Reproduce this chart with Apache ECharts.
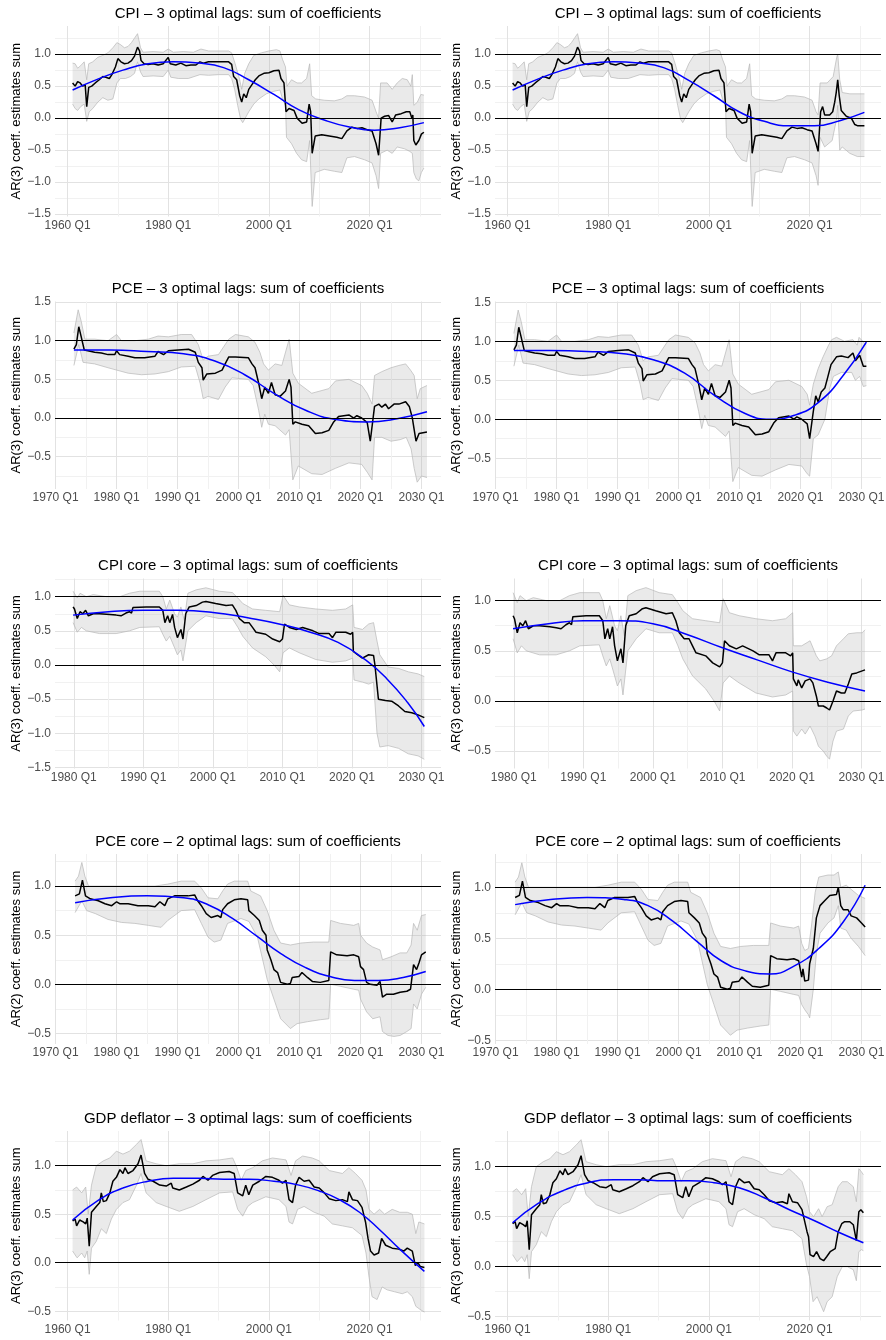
<!DOCTYPE html>
<html lang="en">
<head>
<meta charset="UTF-8">
<title>AR coefficient sums</title>
<style>
  html, body { margin: 0; padding: 0; background: #fff; }
  #chart { width: 886px; height: 1340px; }
</style>
</head>
<body>
<div id="chart"></div>
<script src="https://cdn.jsdelivr.net/npm/echarts@6/dist/echarts.min.js"></script>
<script>
// ---------- data (x = quarter position on the axis, y = value) ----------
// CPI: shared history, then tails for left (A) and right (B) panels
var cpiEst = [[1961.0,0.55],[1961.5,0.50],[1962.0,0.57],[1962.5,0.55],[1963.0,0.50],[1963.5,0.52],[1963.8,0.18],[1964.2,0.48],[1964.8,0.50],[1965.5,0.55],[1966.3,0.60],[1967.0,0.65],[1967.6,0.64],[1968.3,0.62],[1968.8,0.68],[1969.5,0.80],[1970.0,0.93],[1970.6,0.88],[1971.3,0.85],[1972.0,0.86],[1972.7,0.90],[1973.3,0.97],[1973.9,1.11],[1974.3,1.05],[1974.6,0.90],[1975.2,0.85],[1976.0,0.84],[1977.0,0.85],[1978.0,0.83],[1979.0,0.85],[1980.0,0.95],[1980.4,0.85],[1981.5,0.83],[1982.5,0.86],[1983.5,0.82],[1984.5,0.83],[1985.5,0.83],[1986.3,0.88],[1987.0,0.86],[1988.0,0.88],[1989.5,0.88],[1991.0,0.88],[1992.0,0.88],[1992.6,0.84],[1993.0,0.65],[1993.6,0.60],[1994.2,0.35],[1994.6,0.25],[1995.0,0.38],[1995.5,0.32],[1996.0,0.45],[1996.6,0.52],[1997.3,0.60],[1998.0,0.66],[1999.0,0.70],[2000.0,0.71],[2001.0,0.74],[2002.0,0.75],[2002.4,0.62],[2003.0,0.55],[2003.4,0.10],[2004.0,0.15],[2005.0,0.12],[2005.6,0.00],[2006.6,-0.08],[2007.5,-0.06],[2008.0,0.22],[2008.3,0.10],[2008.6,-0.55],[2009.2,-0.28],[2010.5,-0.26],[2012.0,-0.28],[2013.5,-0.30],[2014.5,-0.32],[2015.5,-0.20],[2016.5,-0.14],[2017.5,-0.16],[2018.5,-0.15],[2019.5,-0.18],[2020.5,-0.20],[2021.3,-0.40]];
var cpiEstA = [[2021.8,-0.58],[2022.3,0.00],[2023.0,0.03],[2023.8,0.04],[2024.5,-0.06],[2025.2,0.05],[2026.3,0.07],[2027.3,0.10],[2028.0,0.10],[2028.4,0.00],[2028.6,0.05],[2028.8,-0.35],[2029.2,-0.42],[2029.8,-0.35],[2030.3,-0.25],[2030.8,-0.22]];
var cpiEstB = [[2021.7,-0.52],[2022.2,0.10],[2022.6,0.18],[2023.0,0.05],[2024.0,0.05],[2024.6,0.10],[2025.0,0.25],[2025.3,0.40],[2025.6,0.60],[2025.9,0.35],[2026.3,0.12],[2027.3,0.03],[2028.3,0.00],[2029.0,-0.10],[2029.6,-0.12],[2030.9,-0.12]];
var cpiHi = [[1961.0,0.86],[1961.5,0.85],[1962.0,0.78],[1962.6,0.82],[1963.3,0.88],[1963.8,0.60],[1964.2,0.85],[1965.0,0.88],[1966.0,0.95],[1967.0,0.98],[1968.0,1.02],[1969.0,1.10],[1969.8,1.18],[1970.5,1.15],[1971.3,1.10],[1972.0,1.12],[1972.7,1.18],[1973.3,1.25],[1973.9,1.32],[1974.5,1.10],[1975.0,1.03],[1977.0,1.04],[1979.0,1.03],[1980.0,1.08],[1981.0,1.03],[1983.0,1.04],[1985.0,1.03],[1986.5,1.08],[1988.0,1.05],[1990.0,1.05],[1992.0,1.05],[1992.6,1.02],[1993.3,0.85],[1994.2,0.60],[1994.6,0.45],[1995.2,0.70],[1996.0,0.85],[1997.0,0.98],[1998.5,1.02],[2000.0,1.05],[2001.5,1.07],[2002.2,1.05],[2002.7,0.92],[2003.3,0.80],[2003.6,0.50],[2004.5,0.60],[2005.6,0.55],[2006.5,0.55],[2007.5,0.62],[2008.1,0.85],[2008.5,0.35],[2009.3,0.30],[2011.0,0.28],[2013.0,0.27],[2014.5,0.30],[2015.5,0.35],[2017.0,0.35],[2019.0,0.33],[2020.5,0.28],[2021.3,0.10]];
var cpiHiA = [[2021.8,0.00],[2022.2,0.55],[2023.5,0.55],[2024.5,0.45],[2025.5,0.55],[2026.5,0.62],[2027.5,0.60],[2028.2,0.50],[2028.5,0.68],[2028.8,0.20],[2029.5,0.25],[2030.2,0.37],[2030.8,0.36]];
var cpiHiB = [[2021.7,0.05],[2022.1,0.55],[2023.5,0.55],[2024.7,0.65],[2025.4,0.95],[2025.6,1.00],[2026.0,0.60],[2026.5,0.40],[2028.0,0.38],[2030.9,0.38]];
var cpiLo = [[1961.0,0.22],[1961.5,0.15],[1962.0,0.12],[1962.6,0.18],[1963.3,0.22],[1963.8,-0.05],[1964.3,0.10],[1965.0,0.15],[1966.0,0.25],[1967.0,0.32],[1968.0,0.28],[1969.0,0.30],[1969.8,0.55],[1970.5,0.62],[1971.5,0.62],[1972.5,0.65],[1973.3,0.70],[1973.9,0.88],[1974.5,0.72],[1975.0,0.65],[1977.0,0.66],[1979.0,0.65],[1980.0,0.75],[1980.5,0.64],[1982.0,0.62],[1984.0,0.62],[1986.3,0.68],[1988.0,0.67],[1990.0,0.68],[1992.0,0.68],[1992.6,0.62],[1993.2,0.45],[1993.8,0.20],[1994.4,-0.02],[1994.8,-0.07],[1995.3,0.00],[1996.0,0.10],[1997.0,0.22],[1998.0,0.30],[1999.5,0.38],[2001.0,0.42],[2002.2,0.44],[2002.7,0.30],[2003.3,0.20],[2003.5,-0.30],[2004.5,-0.40],[2005.5,-0.55],[2006.5,-0.65],[2007.5,-0.68],[2008.1,-0.35],[2008.6,-1.38],[2009.2,-0.85],[2011.0,-0.80],[2013.0,-0.83],[2014.5,-0.85],[2015.5,-0.62],[2017.0,-0.60],[2019.0,-0.65],[2020.5,-0.70],[2021.3,-0.90]];
var cpiLoA = [[2021.8,-1.10],[2022.2,-0.55],[2023.5,-0.50],[2024.5,-0.55],[2025.5,-0.45],[2027.0,-0.48],[2028.0,-0.52],[2028.5,-0.55],[2028.8,-0.85],[2029.3,-0.95],[2029.8,-0.98],[2030.3,-0.85],[2030.8,-0.78]];
var cpiLoB = [[2021.7,-1.05],[2022.1,-0.30],[2023.0,-0.45],[2024.5,-0.35],[2025.4,0.00],[2025.6,0.20],[2026.0,-0.50],[2026.5,-0.45],[2028.0,-0.55],[2029.5,-0.60],[2030.9,-0.60]];
var cpiTrendA = [[1961,0.44],[1966,0.61],[1971,0.75],[1976,0.85],[1981,0.88],[1986,0.86],[1991,0.79],[1996,0.60],[2001,0.37],[2006,0.13],[2011,-0.03],[2016,-0.14],[2021,-0.19],[2026,-0.15],[2030.8,-0.07]];
var cpiTrendB = [[1961,0.44],[1966,0.61],[1971,0.75],[1976,0.85],[1981,0.88],[1986,0.86],[1991,0.79],[1996,0.59],[2001,0.35],[2006,0.10],[2011,-0.05],[2016,-0.12],[2021,-0.12],[2026,-0.04],[2030.9,0.09]];

// PCE
var pceEst = [[1973.0,0.89],[1973.4,0.95],[1973.8,1.18],[1974.2,1.05],[1974.7,0.88],[1975.3,0.87],[1976.4,0.85],[1977.5,0.84],[1978.6,0.82],[1979.7,0.82],[1980.0,0.87],[1980.5,0.82],[1981.9,0.80],[1983.0,0.78],[1984.6,0.78],[1986.3,0.80],[1986.8,0.86],[1987.7,0.82],[1988.5,0.87],[1990.1,0.88],[1991.8,0.89],[1992.9,0.85],[1993.4,0.72],[1994.0,0.65],[1994.2,0.49],[1994.8,0.57],[1996.2,0.58],[1997.3,0.62],[1997.8,0.70],[1998.4,0.79],[1999.5,0.79],[2001.6,0.78],[2002.2,0.70],[2002.7,0.65],[2003.3,0.45],[2003.8,0.25],[2004.3,0.40],[2004.9,0.32],[2005.4,0.46],[2006.0,0.30],[2006.8,0.28],[2007.7,0.35],[2008.3,0.50],[2008.6,0.40],[2008.9,-0.08],[2009.3,-0.05],[2010.4,-0.08],[2011.5,-0.10],[2012.6,-0.20],[2013.7,-0.19],[2014.8,-0.16],[2015.6,-0.05],[2016.4,0.02],[2018.1,0.04],[2018.9,0.00],[2019.4,0.03],[2020.2,0.00],[2021.1,-0.06]];
var pceEstA = [[2021.6,-0.30],[2021.9,-0.32],[2022.3,0.15],[2023.0,0.18],[2023.5,0.14],[2024.1,0.18],[2024.6,0.12],[2025.5,0.18],[2026.3,0.18],[2027.4,0.21],[2028.0,0.15],[2028.5,0.00],[2029.1,-0.30],[2029.6,-0.20],[2030.9,-0.18]];
var pceEstB = [[2021.5,-0.25],[2022.1,0.10],[2022.5,0.30],[2022.9,0.22],[2023.4,0.35],[2024.0,0.40],[2024.5,0.55],[2025.0,0.70],[2025.9,0.80],[2026.7,0.81],[2027.8,0.79],[2028.6,0.85],[2029.0,0.75],[2029.7,0.82],[2030.3,0.68],[2030.8,0.68]];
var pceHi = [[1973.0,1.10],[1973.7,1.40],[1974.2,1.25],[1974.8,1.02],[1976.4,1.02],[1978.6,1.00],[1980.0,1.08],[1980.8,1.00],[1983.0,1.00],[1985.2,1.02],[1986.8,1.06],[1988.5,1.05],[1990.6,1.08],[1992.3,1.08],[1993.4,0.95],[1994.2,0.75],[1995.0,0.80],[1996.7,0.82],[1998.4,1.02],[1999.5,1.08],[2001.6,1.05],[2002.7,0.98],[2003.5,0.85],[2004.1,0.70],[2004.9,0.62],[2006.0,0.70],[2007.1,0.68],[2008.3,1.02],[2008.9,0.58],[2009.8,0.45],[2012.0,0.32],[2014.8,0.38],[2015.9,0.48],[2018.1,0.50],[2020.2,0.42],[2021.1,0.32]];
var pceHiA = [[2021.9,0.18],[2022.3,0.55],[2023.5,0.60],[2025.0,0.65],[2026.3,0.68],[2027.4,0.70],[2028.2,0.62],[2028.8,0.55],[2029.3,0.25],[2029.8,0.38],[2030.9,0.42]];
var pceHiB = [[2021.5,0.18],[2022.1,0.45],[2022.9,0.65],[2023.7,0.80],[2024.6,0.95],[2025.1,1.02],[2025.9,1.05],[2027.2,1.00],[2028.6,1.02],[2029.3,0.95],[2029.6,1.05],[2030.8,0.95]];
var pceLo = [[1973.0,0.68],[1973.8,0.95],[1974.5,0.72],[1976.4,0.70],[1978.6,0.65],[1980.0,0.62],[1981.9,0.58],[1984.1,0.56],[1986.3,0.57],[1988.5,0.60],[1990.6,0.66],[1992.9,0.67],[1993.7,0.45],[1994.2,0.25],[1995.0,0.28],[1996.7,0.24],[1997.8,0.40],[1998.9,0.52],[2001.6,0.50],[2002.4,0.42],[2003.3,0.10],[2003.8,-0.12],[2004.3,0.05],[2004.9,-0.08],[2006.0,-0.10],[2007.7,-0.22],[2008.3,-0.15],[2008.9,-0.80],[2009.8,-0.62],[2012.0,-0.72],[2013.7,-0.73],[2015.9,-0.65],[2018.1,-0.58],[2020.2,-0.60],[2021.1,-0.70]];
var pceLoA = [[2021.9,-0.80],[2022.3,-0.25],[2023.5,-0.25],[2025.0,-0.30],[2026.5,-0.28],[2027.5,-0.25],[2028.3,-0.40],[2028.8,-0.65],[2029.3,-0.83],[2030.0,-0.75],[2030.9,-0.77]];
var pceLoB = [[2021.5,-0.73],[2022.1,-0.25],[2022.9,-0.20],[2024.0,0.00],[2024.8,0.40],[2025.4,0.55],[2026.7,0.60],[2028.4,0.60],[2029.0,0.50],[2029.7,0.55],[2030.3,0.42],[2030.8,0.43]];
var pceTrendA = [[1973,0.88],[1979,0.88],[1985,0.86],[1991,0.83],[1996,0.74],[2001,0.56],[2006,0.31],[2011,0.10],[2016,-0.02],[2021,-0.05],[2026,-0.01],[2030.9,0.08]];
var pceTrendB = [[1973,0.88],[1979,0.88],[1985,0.87],[1991,0.84],[1996,0.76],[2001,0.59],[2006,0.30],[2011,0.07],[2015,0.00],[2019,0.05],[2023,0.22],[2027,0.56],[2030.8,0.99]];

// CPI core
var coreEst = [[1979.9,0.85],[1980.1,0.82],[1980.5,0.68],[1980.9,0.78],[1981.3,0.75],[1981.7,0.80],[1982.1,0.72],[1982.8,0.75],[1983.7,0.75],[1985.2,0.74],[1986.1,0.73],[1986.8,0.72],[1987.5,0.76],[1988.0,0.78],[1988.3,0.76],[1988.5,0.84],[1990.4,0.85],[1992.3,0.85],[1992.8,0.80],[1993.1,0.62],[1993.5,0.72],[1993.8,0.62],[1994.2,0.74],[1994.5,0.55],[1994.9,0.40],[1995.4,0.52],[1995.7,0.38],[1996.1,0.75],[1996.6,0.85],[1997.6,0.87],[1998.5,0.92],[1999.0,0.93],[2000.4,0.90],[2001.9,0.87],[2002.8,0.88],[2003.3,0.80],[2003.8,0.68],[2004.5,0.62],[2005.2,0.62],[2005.7,0.55],[2006.2,0.48],[2007.6,0.45],[2008.6,0.38],[2009.6,0.34],[2010.0,0.38],[2010.3,0.60],[2011.0,0.55],[2012.0,0.52],[2012.9,0.55],[2014.4,0.50],[2015.3,0.46],[2016.7,0.46],[2017.2,0.40],[2017.7,0.48],[2019.1,0.48],[2019.8,0.45],[2020.1,0.48]];
var coreEstA = [[2020.2,0.20],[2020.8,0.15],[2021.5,0.10],[2022.4,0.15],[2023.1,0.14],[2023.3,0.00],[2023.8,-0.50],[2024.8,-0.52],[2025.7,-0.53],[2026.7,-0.60],[2027.6,-0.68],[2028.6,-0.70],[2029.5,-0.73],[2030.4,-0.77]];
var coreEstB = [[2020.2,0.22],[2020.7,0.15],[2020.9,0.21],[2021.4,0.13],[2021.9,0.20],[2022.6,0.22],[2023.0,0.18],[2023.5,0.05],[2023.8,-0.05],[2024.5,-0.05],[2025.0,-0.07],[2025.4,-0.09],[2025.9,0.00],[2026.4,0.10],[2027.1,0.08],[2027.6,0.08],[2028.1,0.17],[2028.6,0.27],[2029.3,0.28],[2030.1,0.30],[2030.5,0.31]];
var coreHi = [[1979.9,1.08],[1980.5,0.98],[1980.9,1.05],[1981.8,1.00],[1982.8,1.03],[1984.7,1.00],[1986.6,1.00],[1988.0,1.05],[1989.5,1.08],[1992.3,1.08],[1992.8,1.00],[1993.3,0.82],[1993.8,0.95],[1994.5,0.75],[1994.9,0.70],[1995.4,0.85],[1995.9,0.65],[1996.4,1.05],[1997.6,1.10],[1999.0,1.13],[2000.9,1.08],[2002.8,1.06],[2003.6,0.98],[2004.3,0.90],[2005.7,0.82],[2007.6,0.80],[2009.6,0.78],[2010.1,1.02],[2011.0,0.88],[2012.4,0.85],[2014.8,0.82],[2017.2,0.80],[2019.1,0.82],[2020.1,0.88]];
var coreHiA = [[2020.3,0.55],[2021.5,0.52],[2022.4,0.60],[2023.1,0.62],[2023.6,0.35],[2024.0,0.15],[2025.2,-0.03],[2026.7,-0.05],[2028.1,-0.10],[2029.5,-0.13],[2030.4,-0.17]];
var coreHiB = [[2020.2,0.55],[2021.4,0.55],[2022.6,0.60],[2023.5,0.45],[2024.0,0.40],[2025.0,0.42],[2025.7,0.45],[2026.4,0.55],[2027.4,0.62],[2028.1,0.67],[2029.3,0.68],[2030.1,0.68],[2030.5,0.71]];
var coreLo = [[1979.9,0.62],[1980.5,0.48],[1981.1,0.55],[1981.8,0.50],[1983.7,0.46],[1986.1,0.46],[1988.0,0.50],[1989.5,0.55],[1992.3,0.56],[1992.8,0.45],[1993.3,0.35],[1993.8,0.42],[1994.5,0.25],[1994.9,0.15],[1995.4,0.22],[1995.7,0.06],[1996.4,0.50],[1997.6,0.62],[1999.0,0.72],[2000.9,0.68],[2002.8,0.68],[2003.6,0.55],[2004.3,0.42],[2005.7,0.25],[2007.6,0.12],[2008.8,0.00],[2009.6,-0.10],[2010.1,0.18],[2011.0,0.25],[2012.4,0.18],[2014.8,0.08],[2017.2,0.04],[2019.1,0.06],[2020.1,0.10]];
var coreLoA = [[2020.3,-0.22],[2021.5,-0.25],[2022.4,-0.28],[2023.1,-0.25],[2023.6,-1.00],[2024.0,-1.20],[2025.2,-1.18],[2026.7,-1.22],[2028.1,-1.30],[2029.5,-1.33],[2030.4,-1.38]];
var coreLoB = [[2020.2,-0.30],[2020.7,-0.35],[2021.4,-0.28],[2021.9,-0.33],[2022.6,-0.25],[2023.3,-0.35],[2023.8,-0.45],[2024.5,-0.50],[2025.0,-0.55],[2025.4,-0.58],[2025.9,-0.40],[2026.4,-0.30],[2027.4,-0.28],[2028.1,-0.15],[2028.8,-0.10],[2030.1,-0.09],[2030.5,-0.08]];
var coreTrendA = [[1979.9,0.73],[1985,0.78],[1990,0.80],[1995,0.80],[2000,0.77],[2005,0.69],[2010,0.59],[2014,0.48],[2018,0.33],[2022,0.07],[2025,-0.20],[2028,-0.55],[2030.4,-0.90]];
var coreTrendB = [[1979.9,0.72],[1985,0.77],[1990,0.80],[1995,0.80],[2000,0.77],[2005,0.66],[2010,0.53],[2015,0.41],[2020,0.29],[2025,0.19],[2030.5,0.10]];

// PCE core
var pcoreEst = [[1973.2,0.90],[1973.9,0.92],[1974.4,1.06],[1974.9,0.90],[1975.7,0.87],[1977.0,0.85],[1978.1,0.82],[1979.2,0.80],[1980.0,0.84],[1980.5,0.82],[1981.9,0.82],[1983.5,0.80],[1985.2,0.80],[1986.3,0.79],[1987.1,0.84],[1987.9,0.80],[1988.4,0.87],[1989.5,0.90],[1991.7,0.90],[1992.8,0.91],[1993.3,0.85],[1993.9,0.80],[1994.7,0.72],[1995.5,0.68],[1996.6,0.70],[1997.1,0.68],[1997.4,0.76],[1998.2,0.82],[1999.3,0.86],[2000.4,0.87],[2001.5,0.86],[2001.7,0.75],[2002.6,0.70],[2003.4,0.65],[2003.9,0.55],[2004.5,0.50],[2004.7,0.35],[2005.3,0.25],[2005.8,0.15],[2006.4,0.12],[2006.9,0.02],[2008.0,0.00],[2008.5,0.01],[2008.8,0.07],[2009.9,0.08],[2010.4,0.12],[2011.3,0.07],[2012.1,0.03],[2013.4,0.02],[2014.8,0.04],[2015.1,0.33],[2016.1,0.30],[2017.8,0.29],[2018.9,0.30],[2019.7,0.28]];
var pcoreEstA = [[2020.0,0.18],[2020.5,0.15],[2021.0,0.02],[2021.6,0.00],[2022.7,-0.01],[2023.2,0.03],[2023.6,-0.13],[2024.3,-0.10],[2025.4,-0.10],[2026.5,-0.08],[2027.6,-0.07],[2028.2,-0.05],[2028.7,0.20],[2029.2,0.15],[2029.6,0.22],[2030.0,0.30],[2030.7,0.33]];
var pcoreEstB = [[2020.2,0.12],[2020.4,0.20],[2020.7,0.08],[2021.3,0.09],[2021.5,0.25],[2022.1,0.40],[2022.6,0.70],[2023.2,0.82],[2024.0,0.87],[2024.8,0.92],[2025.9,0.93],[2026.2,1.00],[2026.6,0.82],[2027.0,0.78],[2027.8,0.78],[2028.3,0.72],[2029.2,0.70],[2030.0,0.65],[2030.6,0.61]];
var pcoreHi = [[1973.2,1.05],[1973.75,1.10],[1974.3,1.24],[1974.8,1.10],[1975.4,1.00],[1977.6,1.00],[1979.7,1.00],[1981.9,1.00],[1984.1,1.00],[1986.3,1.00],[1988.4,1.02],[1990.6,1.05],[1992.8,1.05],[1993.9,0.98],[1995.0,0.88],[1996.6,0.87],[1997.4,0.95],[1998.2,1.02],[1999.3,1.05],[2001.5,1.05],[2002.0,0.95],[2003.6,0.90],[2004.7,0.75],[2005.8,0.55],[2006.9,0.42],[2008.5,0.40],[2010.2,0.42],[2012.3,0.43],[2014.8,0.43],[2015.1,0.65],[2016.7,0.62],[2018.9,0.60],[2019.7,0.62]];
var pcoreHiA = [[2020.0,0.50],[2021.0,0.42],[2022.0,0.38],[2023.2,0.35],[2023.6,0.25],[2025.0,0.28],[2026.5,0.32],[2027.6,0.32],[2028.3,0.40],[2028.7,0.62],[2029.3,0.55],[2030.0,0.70],[2030.7,0.71]];
var pcoreHiB = [[2020.2,0.45],[2020.7,0.38],[2021.3,0.40],[2021.8,0.62],[2022.4,0.95],[2023.0,1.10],[2024.5,1.12],[2025.5,1.12],[2026.2,1.15],[2026.6,1.00],[2027.5,1.02],[2028.3,0.98],[2029.5,0.92],[2030.6,0.89]];
var pcoreLo = [[1973.2,0.73],[1974.3,0.85],[1975.1,0.75],[1976.5,0.72],[1978.6,0.66],[1980.8,0.63],[1983.0,0.62],[1985.2,0.60],[1987.3,0.58],[1988.4,0.65],[1990.6,0.75],[1992.8,0.76],[1993.9,0.62],[1995.0,0.48],[1996.0,0.43],[1997.1,0.45],[1998.2,0.62],[2000.4,0.67],[2001.7,0.64],[2003.1,0.48],[2004.7,0.05],[2005.8,-0.15],[2006.9,-0.35],[2008.5,-0.45],[2009.6,-0.40],[2011.3,-0.38],[2013.4,-0.36],[2014.8,-0.35],[2015.1,0.00],[2016.7,-0.02],[2018.9,-0.05],[2019.7,-0.06]];
var pcoreLoA = [[2020.0,-0.15],[2021.0,-0.28],[2022.0,-0.35],[2023.2,-0.33],[2023.6,-0.48],[2024.5,-0.52],[2025.5,-0.53],[2026.5,-0.52],[2027.6,-0.48],[2028.3,-0.45],[2028.7,-0.20],[2029.3,-0.25],[2030.0,-0.10],[2030.7,-0.03]];
var pcoreLoB = [[2020.2,-0.15],[2020.7,-0.20],[2021.3,-0.25],[2021.5,-0.28],[2022.1,0.00],[2022.6,0.35],[2023.2,0.55],[2024.5,0.65],[2025.5,0.70],[2026.2,0.82],[2026.6,0.60],[2027.5,0.58],[2028.3,0.50],[2029.5,0.42],[2030.6,0.33]];
var pcoreTrendA = [[1973.2,0.83],[1979,0.88],[1985,0.90],[1991,0.88],[1995,0.81],[1999,0.67],[2003,0.49],[2007,0.31],[2011,0.17],[2015,0.08],[2019,0.04],[2023,0.04],[2027,0.07],[2030.7,0.13]];
var pcoreTrendB = [[1973.2,0.83],[1979,0.88],[1985,0.90],[1991,0.88],[1995,0.82],[1999,0.67],[2003,0.47],[2007,0.28],[2011,0.18],[2015,0.15],[2019,0.23],[2023,0.40],[2027,0.66],[2030.6,1.02]];

// GDP deflator
var gdpEst = [[1961.0,0.43],[1961.5,0.45],[1961.8,0.38],[1962.4,0.44],[1963.1,0.42],[1963.6,0.40],[1963.9,0.46],[1964.3,0.17],[1964.75,0.52],[1965.7,0.58],[1966.4,0.62],[1966.7,0.72],[1967.1,0.63],[1967.7,0.64],[1968.4,0.72],[1969.0,0.84],[1969.7,0.88],[1970.4,0.96],[1971.0,0.92],[1971.4,0.98],[1972.0,0.92],[1973.0,0.95],[1974.0,1.02],[1974.6,1.11],[1975.3,0.92],[1976.0,0.86],[1977.0,0.84],[1978.3,0.80],[1979.6,0.79],[1980.6,0.82],[1980.9,0.77],[1982.2,0.75],[1983.6,0.78],[1984.9,0.81],[1986.2,0.85],[1986.9,0.89],[1987.9,0.85],[1988.8,0.90],[1990.2,0.93],[1992.1,0.94],[1993.1,0.92],[1993.8,0.72],[1994.8,0.69],[1995.4,0.80],[1996.0,0.70],[1996.8,0.80],[1998.1,0.84],[1999.4,0.89],[2000.7,0.88],[2002.0,0.85],[2002.7,0.82],[2003.4,0.85],[2004.0,0.65],[2004.7,0.62],[2005.3,0.80],[2006.0,0.88],[2007.0,0.84],[2008.0,0.85],[2009.0,0.78],[2010.0,0.77],[2011.0,0.72],[2012.0,0.66],[2013.3,0.64],[2014.6,0.65],[2015.6,0.63],[2015.9,0.73],[2016.6,0.65],[2017.6,0.64],[2018.5,0.57]];
var gdpEstA = [[2019.2,0.42],[2019.7,0.25],[2020.2,0.12],[2020.9,0.08],[2021.8,0.10],[2022.4,0.25],[2023.2,0.18],[2024.5,0.15],[2025.8,0.14],[2026.8,0.12],[2027.5,0.15],[2028.5,0.12],[2029.1,-0.03],[2029.6,0.00],[2030.1,-0.04],[2030.9,-0.05]];
var gdpEstB = [[2019.5,0.35],[2019.8,0.30],[2020.1,0.12],[2020.8,0.10],[2021.4,0.15],[2022.1,0.08],[2022.8,0.06],[2023.4,0.10],[2024.1,0.15],[2025.1,0.18],[2025.7,0.35],[2026.4,0.43],[2027.0,0.45],[2028.0,0.45],[2028.7,0.42],[2029.3,0.26],[2029.8,0.55],[2030.2,0.57],[2030.7,0.54]];
var gdpHi = [[1961.0,0.75],[1961.8,0.78],[1962.8,0.72],[1963.6,0.78],[1964.1,0.50],[1964.75,0.80],[1965.7,1.00],[1967.1,1.05],[1968.4,1.08],[1969.7,1.15],[1971.0,1.12],[1972.3,1.15],[1973.7,1.22],[1974.6,1.27],[1975.6,1.05],[1977.6,1.02],[1979.6,1.00],[1982.2,1.02],[1984.9,1.02],[1987.5,1.05],[1990.2,1.06],[1992.8,1.08],[1993.5,1.00],[1994.5,0.85],[1995.4,0.95],[1996.8,0.98],[1998.7,1.05],[2000.7,1.08],[2003.4,1.06],[2004.4,0.90],[2005.3,1.05],[2006.7,1.10],[2008.6,1.08],[2010.0,1.05],[2012.0,0.95],[2014.6,0.92],[2015.9,0.98],[2017.2,0.92],[2018.5,0.85]];
var gdpHiA = [[2019.3,0.75],[2019.9,0.55],[2020.9,0.50],[2022.0,0.55],[2023.0,0.50],[2024.5,0.55],[2026.0,0.52],[2027.5,0.52],[2028.5,0.50],[2029.2,0.30],[2029.8,0.42],[2030.9,0.40]];
var gdpHiB = [[2019.4,0.70],[2020.0,0.55],[2020.8,0.50],[2021.8,0.58],[2022.5,0.50],[2023.5,0.60],[2024.5,0.62],[2025.7,0.80],[2026.5,0.85],[2027.5,0.85],[2028.7,0.80],[2029.3,0.65],[2029.8,0.98],[2030.3,0.95],[2030.7,0.92]];
var gdpLo = [[1961.0,0.12],[1961.5,0.08],[1961.9,0.05],[1962.8,0.10],[1963.4,0.05],[1963.9,0.12],[1964.3,-0.12],[1964.75,0.15],[1965.7,0.22],[1966.7,0.35],[1967.7,0.30],[1968.7,0.45],[1969.7,0.55],[1971.0,0.62],[1972.3,0.65],[1973.7,0.80],[1974.6,0.92],[1975.6,0.72],[1977.6,0.62],[1979.6,0.58],[1982.2,0.53],[1984.9,0.58],[1987.5,0.65],[1990.2,0.72],[1992.8,0.73],[1993.8,0.55],[1994.8,0.48],[1995.8,0.58],[1996.8,0.62],[1999.4,0.68],[2002.0,0.65],[2003.4,0.58],[2004.0,0.42],[2004.7,0.40],[2005.7,0.55],[2007.0,0.58],[2009.0,0.52],[2011.0,0.48],[2012.6,0.40],[2014.6,0.38],[2016.6,0.36],[2018.5,0.28]];
var gdpLoA = [[2019.3,0.10],[2019.9,-0.15],[2020.5,-0.35],[2021.5,-0.38],[2022.5,-0.25],[2023.5,-0.28],[2025.0,-0.30],[2026.5,-0.32],[2027.5,-0.30],[2028.5,-0.35],[2029.2,-0.45],[2030.0,-0.48],[2030.9,-0.51]];
var gdpLoB = [[2019.4,0.02],[2020.0,-0.10],[2020.7,-0.35],[2021.5,-0.30],[2022.2,-0.38],[2022.8,-0.45],[2023.5,-0.35],[2024.5,-0.30],[2025.5,-0.10],[2026.5,0.00],[2027.5,0.00],[2028.7,-0.03],[2029.3,-0.14],[2029.8,0.15],[2030.3,0.17],[2030.7,0.16]];
var gdpTrendA = [[1961,0.44],[1966,0.64],[1971,0.77],[1976,0.84],[1981,0.87],[1986,0.87],[1991,0.86],[1996,0.86],[2001,0.84],[2006,0.80],[2010,0.74],[2014,0.65],[2018,0.52],[2022,0.34],[2026,0.14],[2030.9,-0.09]];
var gdpTrendB = [[1961,0.44],[1966,0.63],[1971,0.76],[1976,0.84],[1981,0.87],[1986,0.87],[1991,0.86],[1996,0.86],[2001,0.84],[2006,0.79],[2011,0.69],[2016,0.57],[2021,0.46],[2026,0.34],[2030.7,0.24]];

// tick labels / grid breaks
var xLab20 = [1960, 1980, 2000, 2020];
var xGrid20 = [1960, 1970, 1980, 1990, 2000, 2010, 2020, 2030];
var xLab10 = [1970, 1980, 1990, 2000, 2010, 2020, 2030];
var xGrid10 = [1970, 1975, 1980, 1985, 1990, 1995, 2000, 2005, 2010, 2015, 2020, 2025, 2030];
var yLab = [-1.5, -1, -0.5, 0, 0.5, 1, 1.5];
var yGrid = [-1.5, -1.25, -1, -0.75, -0.5, -0.25, 0, 0.25, 0.5, 0.75, 1, 1.25, 1.5];

// ---------- layout ----------
var FONT = 'Liberation Sans, Arial, sans-serif';
var rowTop = [26, 301.5, 578.5, 854, 1131];
var rowH = [190.5, 187.5, 190, 190, 189.5];
var colLeft = [55, 495];
var plotW = 386;

var panels = [
  {t: 'CPI \u2013 3 optimal lags: sum of coefficients', ar: 3, est: cpiEst.concat(cpiEstA), hi: cpiHi.concat(cpiHiA), lo: cpiLo.concat(cpiLoA), trend: cpiTrendA, xr: [1957.5, 2034.2], yr: [-1.537, 1.44], xl: xLab20, xg: xGrid20},
  {t: 'CPI \u2013 3 optimal lags: sum of coefficients', ar: 3, est: cpiEst.concat(cpiEstB), hi: cpiHi.concat(cpiHiB), lo: cpiLo.concat(cpiLoB), trend: cpiTrendB, xr: [1957.5, 2034.2], yr: [-1.537, 1.44], xl: xLab20, xg: xGrid20},
  {t: 'PCE \u2013 3 optimal lags: sum of coefficients', ar: 3, est: pceEst.concat(pceEstA), hi: pceHi.concat(pceHiA), lo: pceLo.concat(pceLoA), trend: pceTrendA, xr: [1969.9, 2033.2], yr: [-0.918, 1.507], xl: xLab10, xg: xGrid10},
  {t: 'PCE \u2013 3 optimal lags: sum of coefficients', ar: 3, est: pceEst.concat(pceEstB), hi: pceHi.concat(pceHiB), lo: pceLo.concat(pceLoB), trend: pceTrendB, xr: [1969.9, 2033.2], yr: [-0.895, 1.51], xl: xLab10, xg: xGrid10},
  {t: 'CPI core \u2013 3 optimal lags: sum of coefficients', ar: 3, est: coreEst.concat(coreEstA), hi: coreHi.concat(coreHiA), lo: coreLo.concat(coreLoA), trend: coreTrendA, xr: [1977.3, 2032.8], yr: [-1.515, 1.266], xl: xLab10, xg: xGrid10},
  {t: 'CPI core \u2013 3 optimal lags: sum of coefficients', ar: 3, est: coreEst.concat(coreEstB), hi: coreHi.concat(coreHiB), lo: coreLo.concat(coreLoB), trend: coreTrendB, xr: [1977.3, 2032.8], yr: [-0.673, 1.221], xl: xLab10, xg: xGrid10},
  {t: 'PCE core \u2013 2 optimal lags: sum of coefficients', ar: 2, est: pcoreEst.concat(pcoreEstA), hi: pcoreHi.concat(pcoreHiA), lo: pcoreLo.concat(pcoreLoA), trend: pcoreTrendA, xr: [1969.9, 2033.2], yr: [-0.607, 1.326], xl: xLab10, xg: xGrid10},
  {t: 'PCE core \u2013 2 optimal lags: sum of coefficients', ar: 2, est: pcoreEst.concat(pcoreEstB), hi: pcoreHi.concat(pcoreHiB), lo: pcoreLo.concat(pcoreLoB), trend: pcoreTrendB, xr: [1969.9, 2033.2], yr: [-0.536, 1.326], xl: xLab10, xg: xGrid10},
  {t: 'GDP deflator \u2013 3 optimal lags: sum of coefficients', ar: 3, est: gdpEst.concat(gdpEstA), hi: gdpHi.concat(gdpHiA), lo: gdpLo.concat(gdpLoA), trend: gdpTrendA, xr: [1957.5, 2034.2], yr: [-0.596, 1.358], xl: xLab20, xg: xGrid20},
  {t: 'GDP deflator \u2013 3 optimal lags: sum of coefficients', ar: 3, est: gdpEst.concat(gdpEstB), hi: gdpHi.concat(gdpHiB), lo: gdpLo.concat(gdpLoB), trend: gdpTrendB, xr: [1957.5, 2034.2], yr: [-0.538, 1.357], xl: xLab20, xg: xGrid20}
];

var MAJ = '#e2e2e2', MIN = '#f1f1f1';

function inRange(list, r) {
  return list.filter(function (v) { return v >= r[0] && v <= r[1]; });
}
function gridColors(ticks, labs) {
  return labs.indexOf(ticks[0]) >= 0 ? [MAJ, MIN] : [MIN, MAJ];
}
function fmtY(v) {
  return (v < 0 ? '\u2212' : '') + Math.abs(v).toFixed(1);
}

var grids = [], xAxes = [], yAxes = [], titles = [], series = [];

panels.forEach(function (p, i) {
  var row = Math.floor(i / 2), col = i % 2;
  var left = colLeft[col], top = rowTop[row], h = rowH[row];
  grids.push({left: left, top: top, width: plotW, height: h, outerBoundsMode: 'none'});

  titles.push({
    text: p.t, left: left + plotW / 2, top: top - 12.5, padding: 0,
    textAlign: 'center', textVerticalAlign: 'middle',
    textStyle: {fontSize: 15, fontWeight: 'normal', color: '#000', fontFamily: FONT}
  });

  var xt = inRange(p.xg, p.xr), xl = inRange(p.xl, p.xr);
  xAxes.push({
    gridIndex: i, type: 'value', min: p.xr[0], max: p.xr[1],
    axisLine: {show: false},
    axisTick: {show: false, customValues: xt},
    axisLabel: {customValues: xl, formatter: function (v) { return Math.round(v) + ' Q1'; },
      color: '#4d4d4d', fontSize: 12, margin: 3, fontFamily: FONT},
    splitLine: {show: true, lineStyle: {color: gridColors(xt, xl), width: 1}}
  });

  var yt = inRange(yGrid, p.yr), yl = inRange(yLab, p.yr);
  yAxes.push({
    gridIndex: i, type: 'value', min: p.yr[0], max: p.yr[1],
    name: 'AR(' + p.ar + ') coeff. estimates sum', nameLocation: 'middle', nameGap: 31, nameRotate: 90,
    nameTextStyle: {fontSize: 13, color: '#000', fontFamily: FONT},
    axisLine: {show: false},
    axisTick: {show: false, customValues: yt},
    axisLabel: {customValues: yl, formatter: fmtY, color: '#4d4d4d', fontSize: 12, margin: 4, fontFamily: FONT},
    splitLine: {show: true, lineStyle: {color: gridColors(yt, yl), width: 1}}
  });

  // confidence band
  series.push({
    type: 'custom', xAxisIndex: i, yAxisIndex: i, silent: true, z: 1,
    data: p.hi,
    renderItem: function (params, api) {
      if (params.dataIndex !== 0) return null;
      var pts = p.hi.map(function (d) { return api.coord(d); })
        .concat(p.lo.slice().reverse().map(function (d) { return api.coord(d); }));
      return {type: 'polygon', shape: {points: pts}, style: {fill: 'rgba(170,170,170,0.25)'}};
    }
  });
  // band edges (+ reference lines at 0 and 1)
  series.push({type: 'line', xAxisIndex: i, yAxisIndex: i, data: p.hi, symbol: 'none', silent: true, z: 2,
    lineStyle: {color: '#b8b8b8', width: 0.7},
    markLine: {symbol: 'none', silent: true, label: {show: false},
      lineStyle: {color: '#000', width: 1, type: 'solid'},
      data: [{yAxis: 0}, {yAxis: 1}]}
  });
  series.push({type: 'line', xAxisIndex: i, yAxisIndex: i, data: p.lo, symbol: 'none', silent: true, z: 2,
    lineStyle: {color: '#b8b8b8', width: 0.7}});
  // estimate
  series.push({type: 'line', xAxisIndex: i, yAxisIndex: i, data: p.est, symbol: 'none', silent: true, z: 3,
    lineStyle: {color: '#000', width: 1.5}});
  // smooth trend
  series.push({type: 'line', xAxisIndex: i, yAxisIndex: i, data: p.trend, symbol: 'none', silent: true, z: 4,
    smooth: 0.5, lineStyle: {color: '#0000ff', width: 1.5}});
});

var chart = echarts.init(document.getElementById('chart'));
chart.setOption({
  animation: false,
  backgroundColor: '#fff',
  textStyle: {fontFamily: FONT},
  title: titles,
  grid: grids,
  xAxis: xAxes,
  yAxis: yAxes,
  series: series
});
</script>
</body>
</html>
